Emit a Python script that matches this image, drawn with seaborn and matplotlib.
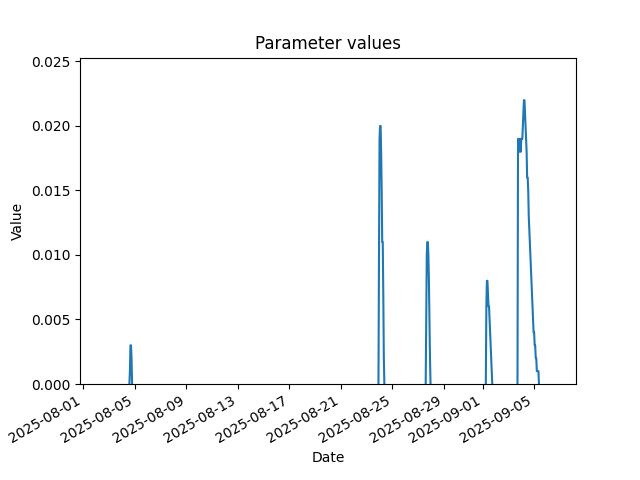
import numpy as np
import pandas as pd
import matplotlib
matplotlib.use("Agg")
import matplotlib.pyplot as plt
import seaborn as sns

# Observation window of the series
start_time = "2025-08-02 12:00"
end_time = "2025-09-06 12:00"

# Spike episodes: first hour and hourly values (start/end at 0)
spike1_start = "2025-08-04 14:00"
spike1_values = [0.0, 0.001, 0.003, 0.003, 0.002, 0.0]

spike2_start = "2025-08-23 22:00"
spike2_values = [0.0, 0.010, 0.019, 0.020, 0.020, 0.018, 0.015, 0.011, 0.011,
                 0.007, 0.002, 0.0]

spike3_start = "2025-08-27 14:00"
spike3_values = [0.0, 0.005, 0.010, 0.011, 0.011, 0.010, 0.008, 0.005, 0.002, 0.0]

spike4_start = "2025-09-01 06:00"
spike4_values = [0.0, 0.006, 0.008, 0.008, 0.007, 0.006, 0.006, 0.005, 0.004,
                 0.003, 0.002, 0.001, 0.0]

spike5_start = "2025-09-03 17:00"
spike5_values = [0.0, 0.019, 0.019, 0.018, 0.019, 0.019, 0.018, 0.019, 0.019, 0.019,
                 0.020, 0.021, 0.022, 0.022, 0.021, 0.020, 0.019, 0.018, 0.016,
                 0.016, 0.015, 0.013, 0.012, 0.011, 0.010, 0.009, 0.008, 0.007,
                 0.006, 0.005, 0.004, 0.004, 0.003, 0.003, 0.002, 0.002, 0.001,
                 0.001, 0.001, 0.001, 0.0]

frames = []
for seg, (st, vals) in enumerate([(spike1_start, spike1_values),
                                  (spike2_start, spike2_values),
                                  (spike3_start, spike3_values),
                                  (spike4_start, spike4_values),
                                  (spike5_start, spike5_values)]):
    idx = pd.date_range(st, periods=len(vals), freq="h")
    frames.append(pd.DataFrame({"Date": idx, "Value": vals, "segment": seg}))
df = pd.concat(frames, ignore_index=True)

fig, ax = plt.subplots(figsize=(6.4, 4.8), dpi=100)
sns.lineplot(data=df, x="Date", y="Value", units="segment", estimator=None,
             ax=ax, color="#1f77b4", linewidth=1.5)

t0 = pd.Timestamp(start_time)
t1 = pd.Timestamp(end_time)
margin = (t1 - t0) * 0.05
ax.set_xlim(t0 - margin, t1 + margin)
ax.set_ylim(0, df["Value"].max() * 1.15)
ax.set_title("Parameter values")
ax.set_xlabel("Date")
ax.set_ylabel("Value")
fig.autofmt_xdate()
fig.subplots_adjust(left=0.125, right=0.9, top=0.88, bottom=0.2)
fig.savefig("out.png", dpi=100)
